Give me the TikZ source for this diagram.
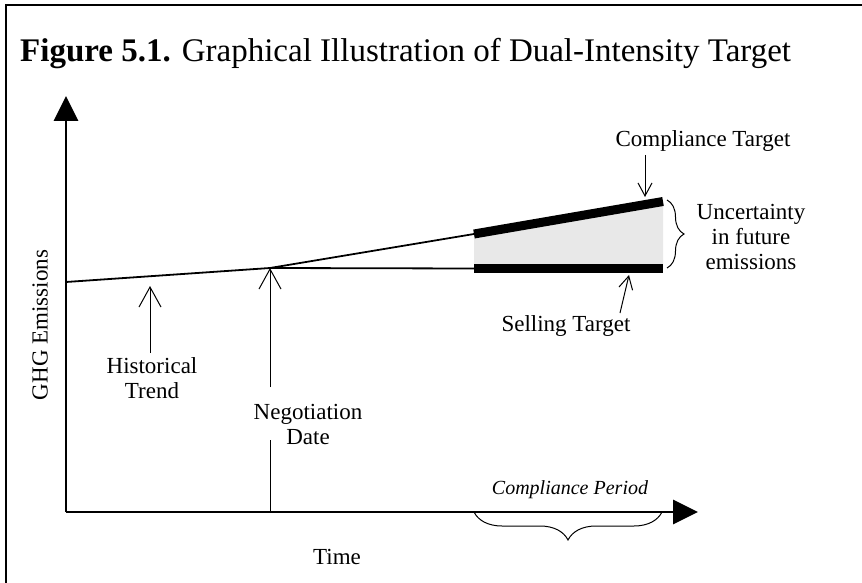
\documentclass[tikz,border=0pt]{standalone}
\usepackage{fontspec}
\setmainfont{Liberation Serif}
\usetikzlibrary{arrows.meta,decorations.pathreplacing}
\begin{document}
\begin{tikzpicture}[x=1pt,y=-1pt,
  axis/.style={line width=2.8pt,-{Triangle[length=25pt,width=24pt]}},
  trend/.style={line width=1.8pt},
  bar/.style={line width=9pt},
  pointer/.style={line width=1pt,-{Straight Barb[length=20pt,width=22pt,line width=1pt]}},
  smallpointer/.style={line width=1pt,-{Straight Barb[length=13pt,width=14pt,line width=1pt]}},
  lbl/.style={font=\fontsize{23}{25}\selectfont,align=center,inner sep=0pt},
  brc/.style={line width=1pt,decorate}]
\useasboundingbox (0,0) rectangle (862,583);
% frame
\draw[line width=1.5pt] (6,583) -- (6,5) -- (862,5);
% title
\node[anchor=base west,inner sep=0pt,font=\fontsize{33}{36}\selectfont] (title) at (20,62)
  {\textbf{Figure 5.1.} Graphical Illustration of Dual-Intensity Target};
% axes
\coordinate (O) at (66,512);
\coordinate (ytop) at (66,96);
\coordinate (xend) at (698,512);
\draw[axis] (O) -- (ytop);
\draw[axis] (O) -- (xend);
% gray uncertainty area
\coordinate (uL) at (474,234);
\coordinate (uR) at (663,201.5);
\coordinate (lL) at (474,268.5);
\coordinate (lR) at (663,268.5);
\fill[gray!18] (uL) -- (uR) -- (lR) -- (lL) -- cycle;
\draw[bar] (uL) -- (uR);
\draw[bar] (lL) -- (lR);
% trend lines
\coordinate (start) at (66,282);
\coordinate (neg) at (270,268);
\draw[trend] (start) -- (neg) -- (uL);
\draw[trend] (neg) -- (lL);
% labels
\node[lbl] (hist) at (152,378) {Historical\\Trend};
\node[lbl] (negd) at (308,424) {Negotiation\\Date};
\node[lbl] (ct) at (703,141) {Compliance Target};
\node[lbl] (st) at (566,326) {Selling Target};
\node[lbl] (unc) at (751,237) {Uncertainty\\in future\\emissions};
\node[lbl] (time) at (337,557) {Time};
\node[lbl,rotate=90] (ghg) at (40,325) {GHG Emissions};
\node[lbl,font=\fontsize{20}{24}\itshape] (cp) at (570,490) {Compliance Period};
% pointers
\coordinate (histtail) at (150,353);
\coordinate (histtip) at (150,286);
\draw[pointer] (histtail) -- (histtip);
\coordinate (negtail) at (270,387);
\draw[pointer] (negtail) -- (neg);
\coordinate (negfoot) at (270,512);
\coordinate (neglow) at (270,440);
\draw[line width=1pt] (neglow) -- (negfoot);
\coordinate (cttail) at (645,155);
\coordinate (cttip) at (645,197);
\draw[smallpointer] (cttail) -- (cttip);
\coordinate (sttail) at (620,313);
\coordinate (sttip) at (629,275);
\draw[smallpointer] (sttail) -- (sttip);
% braces
\coordinate (b1) at (667,200);
\coordinate (b2) at (667,268);
\draw[brc,decoration={brace,amplitude=17pt}] (b1) -- (b2);
\coordinate (c1) at (474,512);
\coordinate (c2) at (662,512);
\draw[brc,decoration={brace,mirror,amplitude=28pt}] (c1) -- (c2);
\end{tikzpicture}
\end{document}
